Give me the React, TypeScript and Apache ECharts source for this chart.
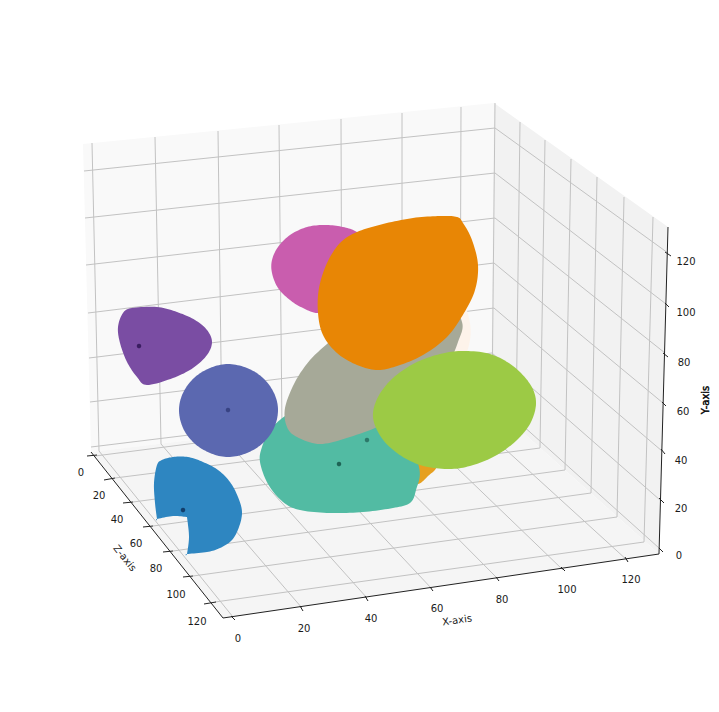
import React, { useEffect, useRef } from "react";
import * as echarts from "echarts";

type P = number[];
const W = 719;
const H = 712;

// Axis tick labels
const xTickLabels = ["0", "20", "40", "60", "80", "100", "120"];
const yTickLabels = ["0", "20", "40", "60", "80", "100", "120"];
const zTickLabels = ["0", "20", "40", "60", "80", "100", "120"];

// Panes
const leftWall: P[] = [[83, 144], [494, 103], [491, 404], [91, 452]];
const rightWall: P[] = [[494, 103], [668, 227], [659, 554], [491, 404]];
const floor: P[] = [[91, 452], [491, 404], [659, 554], [223, 618]];

// Grid lines [x1, y1, x2, y2]
const wallXLines: P[] = [
  [92, 143, 99, 451], [155, 137, 161, 444], [218, 131, 222, 436], [279, 125, 282, 429],
  [341, 119, 342, 422], [402, 113, 402, 415], [461, 107, 460, 408],
];
const wallYLines: P[] = [
  [91, 447, 492, 398], [90, 402, 492, 353], [89, 358, 494, 308], [88, 313, 494, 263],
  [86, 265, 495, 218], [85, 218, 495, 173], [84, 171, 495, 128],
];
const sideZLines: P[] = [
  [495, 103, 492, 405], [520, 122, 516, 427], [545, 140, 540, 448], [571, 159, 565, 470],
  [597, 177, 591, 493], [624, 197, 617, 517], [653, 217, 644, 542],
];
const sideYLines: P[] = [
  [492, 398, 659, 548], [492, 353, 660, 500], [494, 308, 662, 451], [494, 263, 663, 403],
  [495, 218, 665, 353], [495, 173, 666, 304], [495, 128, 668, 253],
];
const floorXLines: P[] = [
  [99, 451, 233, 617], [161, 444, 302, 608], [222, 436, 367, 598], [282, 429, 432, 589],
  [342, 422, 498, 579], [402, 415, 563, 570], [460, 408, 628, 561],
];
const floorZLines: P[] = [
  [95, 456, 492, 405], [115, 478, 516, 427], [133, 502, 540, 448], [153, 526, 565, 470],
  [173, 551, 591, 493], [193, 576, 617, 517], [215, 602, 644, 542],
];

// Axis lines and tick marks
const axisLines: P[] = [
  [91, 452, 223, 618], [223, 618, 659, 554], [659, 554, 668, 227],
];
const xTickMarks: P[] = [
  [231, 616, 235, 620], [300, 606, 303, 611], [365, 596, 368, 601], [430, 587, 433, 591],
  [496, 577, 499, 581], [561, 567, 565, 571], [625, 557, 628, 562],
];
const yTickMarks: P[] = [
  [659, 548, 663, 552], [659, 498, 664, 503], [661, 449, 665, 454], [662, 402, 666, 406],
  [663, 353, 668, 357], [665, 303, 669, 307], [665, 252, 671, 256],
];
const zTickMarks: P[] = [
  [87, 456, 97, 455], [104, 480, 115, 478], [123, 503, 133, 502], [143, 527, 153, 526],
  [163, 552, 173, 551], [183, 577, 193, 576], [204, 604, 216, 602],
];

// Tick label anchors
const xLabelAt: P[] = [[238, 638], [304, 628], [371, 618], [437, 608], [502, 599], [567, 589], [631, 579]];
const yLabelAt: P[] = [[679, 555], [681, 508], [681, 460], [683, 411], [684, 362], [686, 312], [686, 261]];
const zLabelAt: P[] = [[81, 472], [99, 495], [117, 519], [136, 543], [156, 568], [176, 594], [197, 621]];

// Blobs, drawn back to front
const peachBlob: P[] = [[460, 300], [469, 318], [470, 340], [462, 358], [440, 360], [445, 320]];
const goldBlob: P[] = [[410, 455], [422, 460], [436, 467], [428, 476], [418, 484], [408, 478]];
const magentaBlob: P[] = [
  [357, 232], [343, 227], [325, 225], [307, 227], [290, 235], [278, 247], [272, 260], [272, 273],
  [278, 288], [290, 300], [303, 308], [320, 313], [350, 305], [375, 280], [374, 245],
];
const tealBlob: P[] = [
  [285, 416], [270, 430], [262, 447], [260, 462], [268, 484], [283, 502], [300, 510], [330, 513],
  [363, 512], [393, 508], [410, 503], [416, 490], [419, 467], [400, 425], [345, 405], [305, 405],
];
const taupeBlob: P[] = [
  [345, 328], [327, 344], [310, 360], [295, 382], [285, 408], [287, 427], [297, 437], [320, 444],
  [350, 437], [385, 423], [425, 395], [447, 366], [458, 342], [462, 322], [445, 300], [395, 300],
];
const orangeBlob: P[] = [
  [457, 217], [463, 223], [472, 240], [478, 265], [475, 290], [464, 313], [447, 337], [423, 355],
  [400, 365], [378, 370], [357, 365], [337, 353], [323, 335], [318, 313], [319, 288], [327, 263],
  [340, 243], [357, 232], [383, 224], [413, 218], [440, 216],
];
const limeBlob: P[] = [
  [463, 351], [490, 354], [513, 366], [530, 384], [536, 402], [531, 422], [517, 440], [495, 456],
  [470, 466], [447, 469], [420, 465], [397, 453], [381, 437], [373, 417], [378, 397], [393, 378],
  [415, 363], [440, 354],
];
const indigoBlob: P[] = [
  [278, 410], [274, 428], [263, 443], [247, 453], [228, 457], [210, 453], [194, 443], [183, 428],
  [179, 410], [183, 393], [194, 378], [210, 368], [228, 364], [247, 368], [263, 378], [274, 393],
];
const purpleBlob: P[] = [
  [118, 327], [123, 313], [132, 308], [157, 307], [177, 312], [195, 320], [207, 330], [212, 342],
  [207, 355], [193, 368], [173, 378], [147, 385], [137, 377], [127, 362], [120, 343],
];
const blueBlob: P[] = [
  [162, 460], [173, 457], [188, 457], [203, 462], [218, 470], [230, 482], [238, 497], [242, 512],
  [239, 527], [232, 540], [220, 548], [207, 552], [187, 554], [187, 554], [189, 537], [187, 517],
  [187, 517], [173, 516], [157, 519], [157, 519], [155, 503], [154, 483], [157, 465],
];

// Centre dots
const dots: P[] = [[139, 346], [228, 410], [183, 510], [339, 464], [367, 440]];
const dotColors = ["#2a1150", "#303a78", "#0b2c55", "#124f42", "#24695b"];

// Rounds a closed outline into a curve for drawing (the outline's own points stay on it).
function rounded(pts: number[][]) {
  const out: number[][] = [];
  const n = pts.length;
  const steps = 10;
  for (let i = 0; i < n; i++) {
    const a = pts[(i - 1 + n) % n];
    const b = pts[i];
    const c = pts[(i + 1) % n];
    const d = pts[(i + 2) % n];
    for (let s = 0; s < steps; s++) {
      const t = s / steps;
      const t2 = t * t;
      const t3 = t2 * t;
      out.push([0, 1].map((k) =>
        0.5 * (2 * b[k] + (c[k] - a[k]) * t + (2 * a[k] - 5 * b[k] + 4 * c[k] - d[k]) * t2 +
          (3 * b[k] - a[k] - 3 * c[k] + d[k]) * t3)));
    }
  }
  return out;
}

function linesSeries(data: P[], color: string, width: number) {
  return {
    type: "custom",
    silent: true,
    clip: false,
    coordinateSystem: "cartesian2d",
    encode: { x: 0, y: 1 },
    data,
    renderItem: (_: any, api: any) => {
      const a = api.coord([api.value(0), api.value(1)]);
      const b = api.coord([api.value(2), api.value(3)]);
      return {
        type: "line",
        shape: { x1: a[0], y1: a[1], x2: b[0], y2: b[1] },
        style: { stroke: color, lineWidth: width, fill: "none" },
      };
    },
  };
}

function polySeries(data: P[], color: string, curve = true) {
  return {
    type: "custom",
    silent: true,
    clip: false,
    coordinateSystem: "cartesian2d",
    encode: { x: 0, y: 1 },
    data,
    renderItem: (p: any, api: any) => {
      if (p.dataIndex !== 0) return null;
      const px = data.map((d) => api.coord(d));
      return {
        type: "polygon",
        shape: { points: curve ? rounded(px) : px },
        style: { fill: color, stroke: "none" },
      };
    },
  };
}

function textSeries(data: P[], labels: string[], color = "#1a1a1a", rotation = 0, stroke = 0) {
  return {
    type: "custom",
    silent: true,
    clip: false,
    coordinateSystem: "cartesian2d",
    encode: { x: 0, y: 1 },
    data,
    renderItem: (p: any, api: any) => {
      const c = api.coord([api.value(0), api.value(1)]);
      return {
        type: "text",
        x: c[0],
        y: c[1],
        rotation,
        style: {
          text: labels[p.dataIndex],
          x: 0,
          y: 0,
          fill: color,
          stroke: stroke ? color : undefined,
          lineWidth: stroke,
          font: '10px "DejaVu Sans"',
          align: "center",
          verticalAlign: "middle",
        },
      };
    },
  };
}

export default function App() {
  const ref = useRef<HTMLDivElement>(null);
  useEffect(() => {
    const chart = echarts.init(ref.current!, null, { renderer: "svg" });
    const gridColor = "#c2c2c2";
    chart.setOption({
      animation: false,
      backgroundColor: "#ffffff",
      grid: { left: 0, right: 0, top: 0, bottom: 0 },
      xAxis: { type: "value", min: 0, max: W, show: false },
      yAxis: { type: "value", min: 0, max: H, inverse: true, show: false },
      series: [
        polySeries(leftWall, "#f9f9f9", false),
        polySeries(rightWall, "#f2f2f2", false),
        polySeries(floor, "#f5f5f5", false),
        linesSeries(wallXLines, gridColor, 1),
        linesSeries(wallYLines, gridColor, 1),
        linesSeries(sideZLines, gridColor, 1),
        linesSeries(sideYLines, gridColor, 1),
        linesSeries(floorXLines, gridColor, 1),
        linesSeries(floorZLines, gridColor, 1),
        linesSeries(axisLines, "#222222", 1),
        linesSeries(xTickMarks, "#222222", 1),
        linesSeries(yTickMarks, "#222222", 1),
        linesSeries(zTickMarks, "#222222", 1),
        polySeries(peachBlob, "#fdf3ea"),
        polySeries(goldBlob, "#e6a01f"),
        polySeries(magentaBlob, "#c95dae"),
        polySeries(tealBlob, "#52bba3"),
        polySeries(taupeBlob, "#a6a998"),
        polySeries(orangeBlob, "#e88605"),
        polySeries(limeBlob, "#9cca45"),
        polySeries(indigoBlob, "#5b68b0"),
        polySeries(purpleBlob, "#7a4da3"),
        polySeries(blueBlob, "#2e86c1"),
        {
          type: "scatter",
          silent: true,
          symbolSize: 4.5,
          data: dots.map((d, i) => ({ value: d, itemStyle: { color: dotColors[i] } })),
        },
        textSeries(xLabelAt, xTickLabels),
        textSeries(yLabelAt, yTickLabels),
        textSeries(zLabelAt, zTickLabels),
        textSeries([[457, 620]], ["X-axis"], "#1a1a1a", 0.14),
        textSeries([[125, 558]], ["Z-axis"], "#1a1a1a", -0.9),
        textSeries([[705, 400]], ["Y-axis"], "#000000", Math.PI / 2, 0.4),
      ],
    });
    return () => chart.dispose();
  }, []);
  return <div ref={ref} style={{ position: "absolute", left: 0, top: 0, width: W, height: H }} />;
}
